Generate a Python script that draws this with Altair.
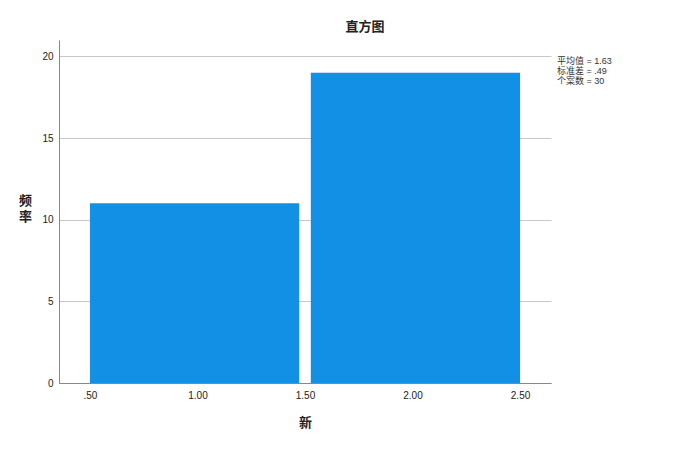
import altair as alt
import pandas as pd

# data
bin_start = [0.5, 1.5]
bin_end = [1.5, 2.5]
counts = [11, 19]
x_ticks = [0.5, 1.0, 1.5, 2.0, 2.5]
x_tick_labels = [".50", "1.00", "1.50", "2.00", "2.50"]
y_ticks = [0, 5, 10, 15, 20]
stats_lines = ["平均值 = 1.63", "标准差 = .49", "个案数 = 30"]

FONT = "Arial, Liberation Sans, Noto Sans CJK SC"
BAR = "#1290E6"
GAP = 0.027

df = pd.DataFrame({"start": bin_start, "end": bin_end, "count": counts})

label_map = "{" + ",".join(f"'{v:g}':'{l}'" for v, l in zip(x_ticks, x_tick_labels)) + "}"

xscale = alt.Scale(domain=[0.356, 2.644], nice=False, zero=False)
yscale = alt.Scale(domain=[0, 21], nice=False)

bars = alt.Chart(df).transform_calculate(
    s=f"datum.start > 0.5 ? datum.start + {GAP} : datum.start",
    e=f"datum.end < 2.5 ? datum.end - {GAP} : datum.end",
).mark_rect(color=BAR).encode(
    x=alt.X("s:Q", scale=xscale, title="新",
            axis=alt.Axis(values=x_ticks,
                          labelExpr=f"{label_map}[toString(datum.value)] || datum.label",
                          grid=False, ticks=False, domainColor="#888888",
                          labelColor="#222222", labelFontSize=10, labelPadding=7,
                          labelFont=FONT, titleFont=FONT, titleFontSize=13,
                          titleFontWeight="bold", titleColor="#222222", titlePadding=16)),
    x2="e:Q",
    y=alt.Y("count:Q", scale=yscale, title=["频", "率"],
            axis=alt.Axis(values=y_ticks, grid=True, gridColor="#C8C8C8", ticks=False,
                          domainColor="#888888", labelColor="#222222", labelFontSize=10,
                          labelPadding=6, labelFont=FONT, titleFont=FONT, titleFontSize=13,
                          titleFontWeight="bold", titleColor="#222222", titleAngle=0,
                          titleAlign="center", titleBaseline="middle",
                          titleX=-34, titleY=160, titleLineHeight=16)),
)

stats_df = pd.DataFrame({"t": stats_lines, "i": list(range(len(stats_lines)))})
stats = alt.Chart(stats_df).mark_text(
    align="left", baseline="middle", font=FONT, fontSize=9, color="#333333"
).encode(
    text="t:N",
    x=alt.value(498),
    y=alt.Y("i:Q", scale=alt.Scale(domain=[0, 10], range=[21, 121]), axis=None),
)

chart = alt.layer(bars, stats).resolve_scale(y="independent").properties(
    width=492, height=343,
    autosize=alt.AutoSizeParams(type="none"),
    padding={"left": 51, "top": 32, "right": 112, "bottom": 55},
    title=alt.TitleParams("直方图", font=FONT, fontSize=13, fontWeight="bold",
                          color="#222222", anchor="middle", dx=60, offset=6),
).configure_view(stroke=None)

chart.save("out.html", embed_options={"renderer": "svg", "actions": False})
